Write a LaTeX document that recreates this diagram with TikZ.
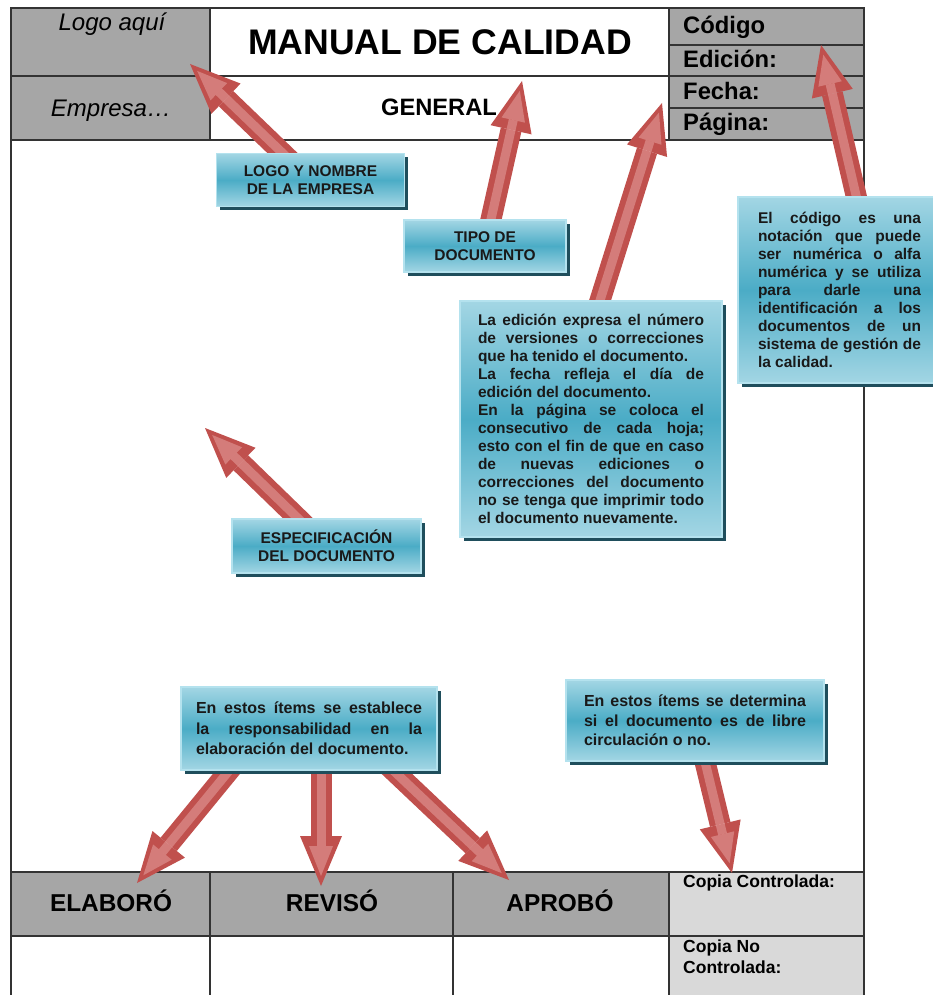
\documentclass[tikz,border=0pt]{standalone}
\usepackage{fontspec}
\setmainfont{Liberation Sans}
\usepackage{tikz}
\usetikzlibrary{arrows.meta,shadows}
\definecolor{cellgray}{HTML}{A6A6A6}
\definecolor{cellpale}{HTML}{D9D9D9}
\definecolor{boxtop}{HTML}{A3D6E4}
\definecolor{boxmid}{HTML}{4BACC6}
\definecolor{boxrim}{HTML}{B4E2EE}
\definecolor{boxshade}{HTML}{1F4E5C}
\definecolor{arrowred}{HTML}{C0504D}
\definecolor{arrowpink}{HTML}{E29A98}
\pgfdeclarelayer{grid}
\pgfdeclarelayer{arrows}
\pgfsetlayers{grid,arrows,main}
\tikzset{cell/.style={draw=black!80, line width=1.6pt},
tealbox/.style={draw=boxrim, line width=1.5pt, top color=boxtop, bottom color=boxtop, middle color=boxmid,
  drop shadow={shadow xshift=3.5pt, shadow yshift=-3.5pt, fill=boxshade, opacity=1}, text=black!90},
tagbox/.style={tealbox, align=center, inner sep=0pt, font=\bfseries\fontsize{15.5}{18}\selectfont},
notebox/.style={tealbox, align=justify, inner ysep=0pt, font=\bfseries\fontsize{15.5}{18}\selectfont},
fat arrow/.style={draw=arrowred, line width=21pt, -{Triangle[length=50pt,width=42pt,line width=0pt]},
  postaction={draw=arrowpink, opacity=0.6, line width=9pt, shorten >=10pt, -{Triangle[length=30pt,width=24pt,line width=0pt]}}},
head/.style={inner sep=0pt, anchor=base, font=\fontsize{24}{28}\selectfont},
side/.style={inner sep=0pt, anchor=base west, font=\bfseries\fontsize{23.8}{26}\selectfont},
foot/.style={inner sep=0pt, anchor=base, font=\bfseries\fontsize{24.4}{28}\selectfont},
copia/.style={inner sep=0pt, anchor=base west, font=\bfseries\fontsize{17.5}{20}\selectfont}
}
\begin{document}
\begin{tikzpicture}[x=1pt, y=-1pt]
\useasboundingbox (0,0) rectangle (932,995);
\begin{pgfonlayer}{grid}
\fill[cellgray] (11,8) rectangle (210,140) (669,8) rectangle (864,140) (11,872) rectangle (669,936);
\fill[cellpale] (669,872) rectangle (864,997);
\draw[cell] (11,8) rectangle (864,140) (11,76) -- (864,76) (210,8) -- (210,140) (669,8) -- (669,140)
            (669,45) -- (864,45) (669,108) -- (864,108);
\draw[cell] (11,140) -- (11,997) (864,140) -- (864,997) (11,872) -- (864,872) (11,936) -- (864,936)
            (210,872) -- (210,997) (453,872) -- (453,997) (669,872) -- (669,997);

\node[head]                    (logo)    at (112,31)  {\itshape Logo aquí};
\node[head]                    (empresa) at (111,117) {\itshape Empresa…};
\node[head, font=\bfseries\fontsize{35.6}{40}\selectfont] (titulo)  at (440,55)  {MANUAL DE CALIDAD};
\node[head, font=\bfseries\fontsize{23.7}{26}\selectfont] (general) at (439,116) {GENERAL};
\node[side] (codigo)  at (683,34)  {Código};
\node[side] (edicion) at (683,68)  {Edición:};
\node[side] (fecha)   at (683,100) {Fecha:};
\node[side] (pagina)  at (683,131) {Página:};
\node[foot] (elaboro) at (111,911) {ELABORÓ};
\node[foot] (reviso)  at (332,911) {REVISÓ};
\node[foot] (aprobo)  at (560,911) {APROBÓ};
\node[copia] (c_si)   at (683,887) {Copia Controlada:};
\node[copia] (c_no)   at (683,952) {Copia No};
\node[copia] (c_no2)  at (683,973) {Controlada:};
\end{pgfonlayer}

\node[tagbox, minimum width=188pt, minimum height=53pt] (b_logo) at (310.5,180) {LOGO Y NOMBRE\\DE LA EMPRESA};
\node[tagbox, minimum width=162pt, minimum height=52pt] (b_tipo) at (485,246)   {TIPO DE\\DOCUMENTO};
\node[tagbox, minimum width=189pt, minimum height=54pt] (b_espe) at (326.5,546) {ESPECIFICACIÓN\\DEL DOCUMENTO};
\node[notebox, text width=226pt, inner xsep=18pt, minimum height=236pt] (b_edic) at (591,419)
  {La edición expresa el número\linebreak de versiones o correcciones\linebreak que ha tenido el documento.\\
   La fecha refleja el día de\linebreak edición del documento.\\
   En la página se coloca el\linebreak consecutivo de cada hoja;\linebreak esto con el fin de que en caso\linebreak
   de nuevas ediciones o\linebreak correcciones del documento\linebreak no se tenga que imprimir todo\linebreak
   el documento nuevamente.};
\node[notebox, text width=163pt, inner xsep=20pt, minimum height=186pt] (b_codi) at (839.5,290)
  {El código es una\linebreak notación que puede\linebreak ser numérica o alfa\linebreak
   numérica y se utiliza\linebreak para darle una\linebreak identificación a los\linebreak documentos de un\linebreak
   sistema de gestión de\linebreak la calidad.};
\node[notebox, text width=226pt, inner xsep=15pt, minimum height=83pt, font=\bfseries\fontsize{16}{20.5}\selectfont] (b_resp) at (309,728.5)
  {En estos ítems se establece\linebreak la responsabilidad en la\linebreak elaboración del documento.};
\node[notebox, text width=222pt, inner xsep=18pt, minimum height=81pt, font=\bfseries\fontsize{16}{19.5}\selectfont] (b_copia) at (695,720.5)
  {En estos ítems se determina\linebreak si el documento es de libre\linebreak circulación o no.};

\coordinate (t_logo)  at (190,64);
\coordinate (t_gen)   at (522,81);
\coordinate (t_pag)   at (662,103);
\coordinate (t_cod)   at (821,45);
\coordinate (t_espe)  at (205,428);
\coordinate (t_elab)  at (137,883);
\coordinate (t_rev)   at (321,886);
\coordinate (t_apr)   at (509,880);
\coordinate (t_copia) at (732,873);

\begin{pgfonlayer}{arrows}
\draw[fat arrow] (b_logo.center) -- (t_logo);
\draw[fat arrow] (b_tipo.center) -- (t_gen);
\draw[fat arrow] ([xshift=5pt,yshift=-13pt]b_edic.north) -- (t_pag);
\draw[fat arrow] ([xshift=20pt,yshift=-14pt]b_codi.north) -- (t_cod);
\draw[fat arrow] (b_espe.center) -- (t_espe);
\draw[fat arrow] ([xshift=-71pt,yshift=11pt]b_resp.south) -- (t_elab);
\draw[fat arrow] ([xshift=12pt,yshift=14pt]b_resp.south) -- (t_rev);
\draw[fat arrow] ([xshift=74pt,yshift=10pt]b_resp.south) -- (t_apr);
\draw[fat arrow] (b_copia.center) -- (t_copia);
\end{pgfonlayer}
\end{tikzpicture}
\end{document}
